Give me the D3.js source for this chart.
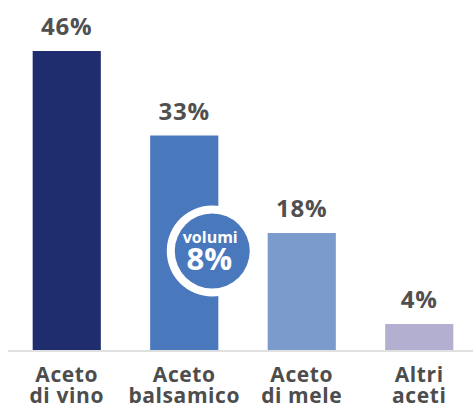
<!DOCTYPE html>
<html><head><meta charset="utf-8">
<script src="https://cdn.jsdelivr.net/npm/d3@7"></script>
<style>body{margin:0;background:#fff}svg{display:block}</style>
</head><body>
<script>
const categories = [["Aceto","di vino"],["Aceto","balsamico"],["Aceto","di mele"],["Altri","aceti"]];
const values = [46, 33, 18, 4];
const valueLabels = ["46%","33%","18%","4%"];
const colors = ["#1f2d6e","#4a78bd","#7a9bcb","#b3afd0"];
const badgeLabel = ["volumi","8%"];

const W = 473, H = 410, baseY = 350;
const font = "'Open Sans', sans-serif";
const svg = d3.select("body").append("svg").attr("width", W).attr("height", H);
const x = d3.scaleBand().domain(d3.range(values.length)).range([8, 478]).paddingInner(0.42).paddingOuter(0.21);
const y = d3.scaleLinear().domain([0, 46]).range([baseY, 51]);

svg.selectAll("rect.bar").data(values).join("rect").attr("class","bar")
  .attr("x",(d,i)=>x(i)).attr("width",x.bandwidth())
  .attr("y",d=>y(d)).attr("height",d=>baseY-y(d)).attr("fill",(d,i)=>colors[i]);

svg.append("line").attr("x1",8).attr("x2",W).attr("y1",baseY+1).attr("y2",baseY+1)
  .attr("stroke","#e0e0e0").attr("stroke-width",2);

svg.selectAll("text.val").data(values).join("text").attr("class","val")
  .attr("x",(d,i)=>x(i)+x.bandwidth()/2).attr("y",d=>y(d)-16)
  .attr("text-anchor","middle").attr("font-family",font).attr("font-weight",700)
  .attr("font-size",24).attr("fill","#505050").attr("letter-spacing",0.8)
  .text((d,i)=>valueLabels[i]);

const cat = svg.selectAll("text.cat").data(categories).join("text").attr("class","cat")
  .attr("text-anchor","middle").attr("font-family",font).attr("font-weight",700)
  .attr("font-size",21).attr("fill","#4d4d4d").attr("letter-spacing",0.6);
cat.each(function(d,i){
  const t = d3.select(this);
  d.forEach((line,j)=>{
    t.append("tspan").attr("x",x(i)+x.bandwidth()/2).attr("y",382+j*21).text(line);
  });
});

// badge
const cx = x(1)+x.bandwidth()/2+28, cy = 251;
svg.append("circle").attr("cx",cx).attr("cy",cy).attr("r",45.5).attr("fill","#fff");
svg.append("circle").attr("cx",cx).attr("cy",cy).attr("r",37.5).attr("fill",colors[1]);
svg.append("text").attr("x",cx-2).attr("y",243).attr("text-anchor","middle")
  .attr("font-family",font).attr("font-weight",700).attr("font-size",16).attr("fill","#fff")
  .text(badgeLabel[0]);
svg.append("text").attr("x",cx-3).attr("y",270).attr("text-anchor","middle")
  .attr("font-family",font).attr("font-weight",700).attr("font-size",31).attr("fill","#fff")
  .text(badgeLabel[1]);
</script>
</body></html>
